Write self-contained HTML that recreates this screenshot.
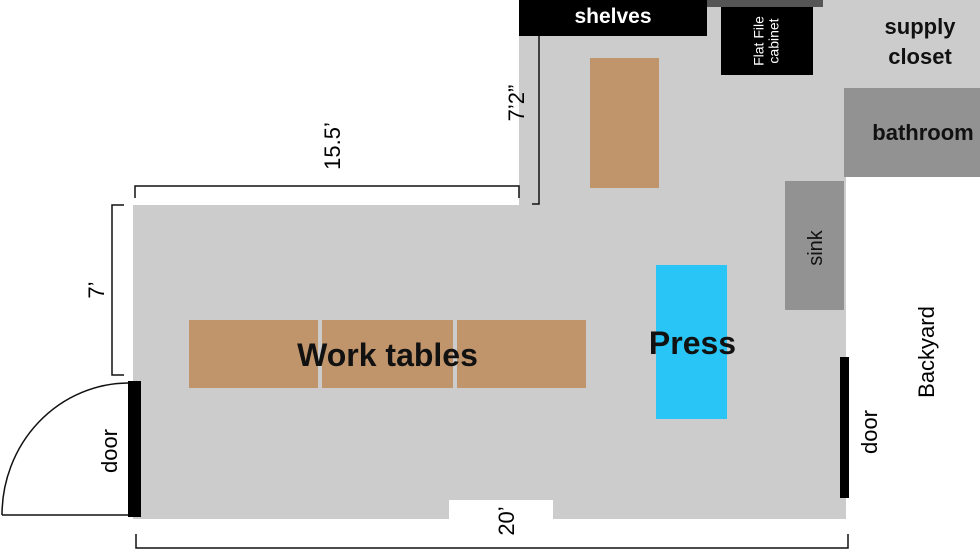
<!DOCTYPE html>
<html><head><meta charset="utf-8"><style>
body{margin:0;width:980px;height:552px;overflow:hidden;background:#fff;position:relative;font-family:"Liberation Sans",sans-serif}
div{position:absolute}
.r{transform:translate(-50%,-50%) rotate(-90deg);white-space:nowrap;line-height:1}
</style></head><body>
<div style="left:133px;top:205px;width:713px;height:314px;background:#cccccc"></div>
<div style="left:519px;top:0;width:327px;height:206px;background:#cccccc"></div>
<div style="left:823px;top:0;width:157px;height:88px;background:#cccccc"></div>
<div style="left:707px;top:0;width:116px;height:7px;background:#555"></div>
<div style="left:519px;top:0;width:188px;height:36px;background:#000;color:#fff;font-weight:bold;font-size:21px;text-align:center;line-height:34px">shelves</div>
<div style="left:721px;top:7px;width:92px;height:68px;background:#000"></div>
<div class="r" style="left:767px;top:41px;color:#fff;font-size:14px;text-align:center;line-height:1.1">Flat File<br>cabinet</div>
<div style="left:845px;top:12px;width:150px;text-align:center;font-weight:bold;font-size:22px;line-height:30px;color:#111">supply<br>closet</div>
<div style="left:844px;top:88px;width:136px;height:89px;background:#929292"></div>
<div style="left:858px;top:88px;width:130px;height:89px;font-weight:bold;font-size:22px;line-height:89px;text-align:center;color:#111;white-space:nowrap">bathroom</div>
<div style="left:785px;top:181px;width:59px;height:129px;background:#929292"></div>
<div class="r" style="left:816px;top:248px;font-size:20px;color:#111">sink</div>
<div style="left:590px;top:58px;width:69px;height:130px;background:#c1956b"></div>
<div style="left:189px;top:320px;width:129px;height:68px;background:#c1956b"></div>
<div style="left:322px;top:320px;width:131px;height:68px;background:#c1956b"></div>
<div style="left:457px;top:320px;width:129px;height:68px;background:#c1956b"></div>
<div style="left:189px;top:320px;width:397px;height:70px;line-height:70px;text-align:center;font-weight:bold;font-size:32px;color:#111">Work tables</div>
<div style="left:656px;top:265px;width:71px;height:154px;background:#29c5f6"></div>
<div style="left:640px;top:325px;width:105px;text-align:center;font-weight:bold;font-size:32px;color:#111">Press</div>
<div style="left:449px;top:500px;width:104px;height:20px;background:#fff"></div>
<div style="left:128px;top:381px;width:13px;height:136px;background:#000"></div>
<div style="left:840px;top:357px;width:9px;height:141px;background:#000"></div>
<svg width="980" height="552" style="position:absolute;left:0;top:0" fill="none" stroke="#111" stroke-width="1.5">
<path d="M2,515 A127,132 0 0 1 128,383"/>
<path d="M2,515 H128"/>
<path d="M135,198 V186 H519 V198"/>
<path d="M539,36 V204 H532"/>
<path d="M124,205 H112 V375 H124"/>
<path d="M136,534 V548 H848 V534"/>
</svg>
<div class="r" style="left:333px;top:146px;font-size:22px">15.5’</div>
<div class="r" style="left:517px;top:103px;font-size:22px">7’2”</div>
<div class="r" style="left:97px;top:290px;font-size:22px">7’</div>
<div class="r" style="left:110px;top:451px;font-size:22px">door</div>
<div class="r" style="left:507px;top:521px;font-size:22px">20’</div>
<div class="r" style="left:870px;top:432px;font-size:22px">door</div>
<div class="r" style="left:927px;top:352px;font-size:22px">Backyard</div>
</body></html>
